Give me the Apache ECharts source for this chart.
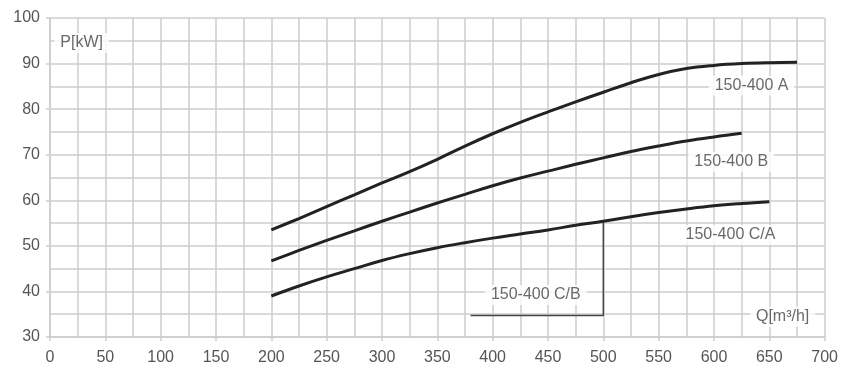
<!DOCTYPE html>
<html>
<head>
<meta charset="utf-8">
<script src="https://cdn.jsdelivr.net/npm/echarts@6/dist/echarts.min.js"></script>
<style>html,body{margin:0;padding:0;background:#fff}#c{width:841px;height:372px}</style>
</head>
<body>
<div id="c"></div>
<script>
// Flow Q [m3/h]
const flowQ = [200,225,250,275,300,325,350,375,400,425,450,475,500,525,550,575,600,625,650,675];
// Power P [kW] per impeller variant
const powerA  = [53.5,56.0,58.6,61.2,63.8,66.3,69.0,71.9,74.6,77.1,79.4,81.6,83.7,85.8,87.6,88.9,89.6,90.0,90.2,90.3];
const powerB  = [46.7,49.0,51.2,53.3,55.4,57.4,59.4,61.3,63.2,64.9,66.4,67.9,69.3,70.7,71.9,73.0,73.9,74.7];
const powerCA = [39.0,41.2,43.2,45.0,46.8,48.3,49.6,50.7,51.7,52.6,53.5,54.5,55.4,56.4,57.3,58.1,58.8,59.3,59.7];
const seriesNames = ['150-400 A','150-400 B','150-400 C/A'];
// Annotations (text, anchor in data coords)
const annotTexts = ['150-400 A','150-400 B','150-400 C/A','150-400 C/B','Q[m³/h]','P[kW]'];
const annotX = [634, 615.6, 614.9, 439, 662, 28.6];
const annotY = [85.2, 68.4, 52.4, 39.2, 34.4, 94.5];
// Leader line for 150-400 C/B
const leaderQ = [500, 500, 380];
const leaderP = [55.4, 34.7, 34.7];
const xTicks = {min:0, max:700, step:50};
const yTicks = {min:30, max:100, step:10};

const pair = (xs, ys) => ys.map((v,i)=>[xs[i], v]);
const FONT = 'Liberation Sans, Arial, sans-serif';
const gridCol = '#cdcdcd';

const chart = echarts.init(document.getElementById('c'), null, {renderer:'canvas'});
const curveSeries = [powerA, powerB, powerCA].map((arr, i) => ({
  name: seriesNames[i], type:'line', data: pair(flowQ, arr), smooth: 0.4,
  showSymbol:false, symbol:'none', lineStyle:{color:'#222', width:3}, z:5, animation:false
}));

chart.setOption({
  animation:false,
  backgroundColor:'#fff',
  grid:{left:50, right:15, top:18, bottom:35},
  xAxis:{
    type:'value', min:xTicks.min, max:xTicks.max, interval:xTicks.step,
    axisLine:{show:true, lineStyle:{color:gridCol, width:1.5}},
    axisTick:{show:true, length:4, lineStyle:{color:gridCol, width:1.5}},
    minorTick:{show:false, splitNumber:2},
    splitLine:{show:true, lineStyle:{color:gridCol, width:1.5}},
    minorSplitLine:{show:true, lineStyle:{color:gridCol, width:1.5}},
    axisLabel:{color:'#555', fontSize:16, fontFamily:FONT, margin:13}
  },
  yAxis:{
    type:'value', min:yTicks.min, max:yTicks.max, interval:yTicks.step,
    axisLine:{show:true, lineStyle:{color:gridCol, width:1.5}},
    axisTick:{show:true, length:4, lineStyle:{color:gridCol, width:1.5}},
    minorTick:{show:false, splitNumber:2},
    splitLine:{show:true, lineStyle:{color:gridCol, width:1.5}},
    minorSplitLine:{show:true, lineStyle:{color:gridCol, width:1.5}},
    axisLabel:{color:'#555', fontSize:16, fontFamily:FONT, margin:10}
  },
  series: curveSeries.concat([
    {type:'line', name:'leader', data: pair(leaderQ, leaderP), showSymbol:false, symbol:'none',
     lineStyle:{color:'#444', width:1.5}, z:4, animation:false},
    {type:'scatter', name:'annotations', symbolSize:0, z:3,
     data: annotTexts.map((t,i)=>({name:t, value:[annotX[i], annotY[i]]})),
     label:{show:true, position:'inside', formatter: p => p.name, color:'#444',
       fontSize:16, fontFamily:FONT, backgroundColor:'#fff', padding:[2,6]},
     emphasis:{disabled:true}, animation:false}
  ])
});
</script>
</body>
</html>
